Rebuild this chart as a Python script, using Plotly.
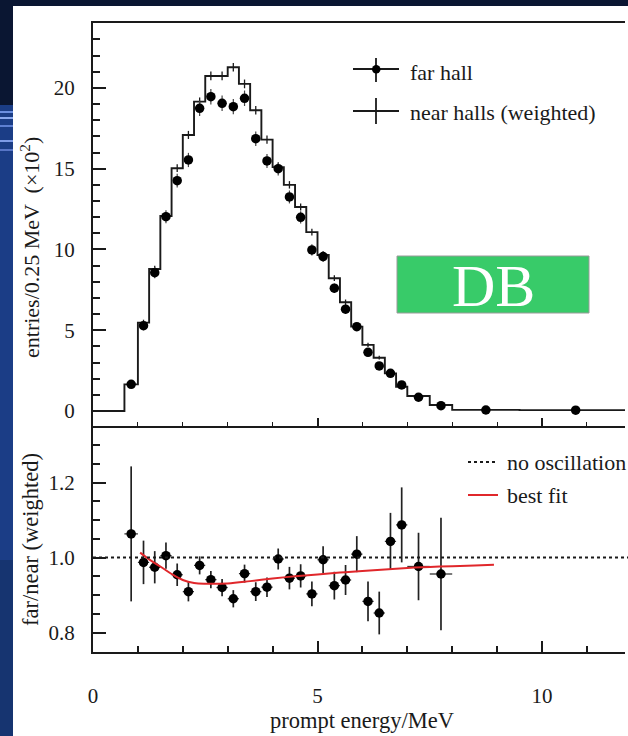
import numpy as np
import plotly.graph_objects as go

# ---------------- data ----------------
bin_edges = [0.7, 1.0, 1.25, 1.5, 1.75, 2.0, 2.25, 2.5, 2.75, 3.0, 3.25, 3.5,
             3.75, 4.0, 4.25, 4.5, 4.75, 5.0, 5.25, 5.5, 5.75, 6.0, 6.25, 6.5,
             6.75, 7.0, 7.5, 8.0, 9.5, 12.0]

near_counts = [1.65, 5.47, 8.79, 12.07, 15.03, 17.09, 19.15, 20.74, 20.74, 21.28,
               20.25, 18.62, 16.80, 15.10, 14.00, 12.63, 11.07, 9.66, 8.22, 6.73,
               5.22, 4.09, 3.30, 2.33, 1.50, 0.93, 0.37, 0.07, 0.05]
near_err = [0.12, 0.18, 0.2, 0.22, 0.24, 0.25, 0.26, 0.27, 0.27, 0.27,
            0.27, 0.26, 0.25, 0.24, 0.23, 0.22, 0.21, 0.2, 0.18, 0.17,
            0.15, 0.13, 0.12, 0.1, 0.08, 0.06, 0.04, 0.02, 0.02]

far_counts = [1.65, 5.28, 8.56, 12.03, 14.26, 15.54, 18.74, 19.46, 19.05, 18.84,
              19.36, 16.86, 15.48, 15.00, 13.25, 11.99, 9.97, 9.56, 7.60, 6.30,
              5.22, 3.63, 2.79, 2.33, 1.61, 0.85, 0.33, 0.06, 0.05]
far_err = [0.15, 0.28, 0.35, 0.4, 0.42, 0.44, 0.47, 0.48, 0.48, 0.47,
           0.48, 0.45, 0.43, 0.42, 0.4, 0.38, 0.35, 0.34, 0.3, 0.28,
           0.25, 0.2, 0.18, 0.16, 0.14, 0.1, 0.06, 0.03, 0.03]

ratio_values = [1.063, 0.987, 0.974, 1.005, 0.954, 0.909, 0.979, 0.941, 0.920, 0.890,
                0.957, 0.909, 0.921, 0.996, 0.945, 0.951, 0.903, 0.994, 0.925, 0.940,
                1.009, 0.883, 0.852, 1.043, 1.087, 0.976, 0.956]
ratio_err = [0.180, 0.058, 0.043, 0.035, 0.030, 0.026, 0.024, 0.023, 0.023, 0.023,
             0.024, 0.025, 0.026, 0.028, 0.030, 0.031, 0.033, 0.036, 0.037, 0.040,
             0.048, 0.053, 0.057, 0.076, 0.100, 0.090, 0.150]

fit_energy = [1.05, 1.25, 1.5, 1.75, 2.0, 2.25, 2.5, 3.0, 3.5, 4.0, 4.5, 5.0,
              5.5, 6.0, 6.5, 7.0, 7.5, 8.0, 8.5, 8.93]
fit_ratio = [1.013, 0.995, 0.976, 0.956, 0.940, 0.932, 0.930, 0.931, 0.937, 0.944,
             0.950, 0.955, 0.960, 0.964, 0.968, 0.972, 0.975, 0.977, 0.979, 0.981]

x_ticks = [0, 5, 10]
top_y_ticks = [0, 5, 10, 15, 20]
bot_y_ticks = [0.8, 1.0, 1.2]

# ---------------- derived ----------------
edges = np.array(bin_edges)
centers = (edges[:-1] + edges[1:]) / 2
halfw = (edges[1:] - edges[:-1]) / 2
n_ratio = len(ratio_values)

W, H = 628, 736
ML, MR, MT, MB = 93, 0, 23, 84
PW, PH = W - ML - MR, H - MT - MB
SPLIT = 426  # px where the panels meet


def px(xp):
    return (xp - ML) / PW


def py(yp):
    return (H - MB - yp) / PH


split_paper = py(SPLIT)

FONT = "Liberation Serif"
INK = "#1a1a1a"

fig = go.Figure()

# near halls step histogram
fig.add_trace(go.Scatter(
    x=[0.0] + list(edges), y=[0.0] + near_counts + [near_counts[-1]],
    mode="lines", line=dict(shape="hv", color=INK, width=1.9),
    xaxis="x", yaxis="y", showlegend=False, hoverinfo="skip"))
# near halls error crosses
fig.add_trace(go.Scatter(
    x=centers, y=near_counts, mode="markers",
    marker=dict(size=1, color=INK),
    error_y=dict(type="data", array=near_err, color=INK, thickness=1.3, width=0),
    xaxis="x", yaxis="y", showlegend=False))
# far hall points
fig.add_trace(go.Scatter(
    x=centers, y=far_counts, mode="markers",
    marker=dict(size=9.5, color="black"),
    error_y=dict(type="data", array=far_err, color="#444", thickness=1.2, width=0),
    xaxis="x", yaxis="y", showlegend=False))

# ratio panel
fig.add_trace(go.Scatter(
    x=centers[:n_ratio], y=ratio_values, mode="markers",
    marker=dict(size=9.5, color="black"),
    error_y=dict(type="data", array=ratio_err, color="#222", thickness=1.7, width=0),
    error_x=dict(type="data", array=halfw[:n_ratio], color="#333", thickness=1.3, width=0),
    xaxis="x2", yaxis="y2", showlegend=False))
fig.add_trace(go.Scatter(
    x=fit_energy, y=fit_ratio, mode="lines",
    line=dict(shape="spline", color="#e0272b", width=2),
    xaxis="x2", yaxis="y2", showlegend=False))

shapes = []
# background layers
shapes.append(dict(type="rect", xref="paper", yref="paper", x0=px(13), x1=px(W + 5),
                   y0=py(6), y1=py(H + 5), fillcolor="white", line=dict(width=0), layer="below"))
shapes.append(dict(type="rect", xref="paper", yref="paper", x0=px(-2), x1=px(13),
                   y0=py(105), y1=py(H + 5), fillcolor="#1b3d86", line=dict(width=0), layer="below"))
shapes.append(dict(type="rect", xref="paper", yref="paper", x0=px(-2), x1=px(13),
                   y0=py(560), y1=py(H + 5), fillcolor="#163470", line=dict(width=0), layer="below"))
for yy, cc in [(112, "#6c8fe0"), (118, "#8aa8ee"), (126, "#5e80d2"), (141, "#7d9be6"), (150, "#5775c6")]:
    shapes.append(dict(type="line", xref="paper", yref="paper", x0=px(-2), x1=px(13),
                       y0=py(yy), y1=py(yy), line=dict(color=cc, width=2), layer="below"))
# the reference is cropped at the right: hide the plot frame edge there
shapes.append(dict(type="rect", xref="paper", yref="paper", x0=px(625), x1=px(W + 5),
                   y0=py(660), y1=py(18), fillcolor="white", line=dict(width=0), layer="above"))

# no-oscillation reference line
shapes.append(dict(type="line", xref="x2 domain", yref="y2", x0=0, x1=1, y0=1.0, y1=1.0,
                   line=dict(color=INK, width=1.8, dash="3px,3px")))

# green DB box
shapes.append(dict(type="rect", xref="paper", yref="paper", x0=px(397), x1=px(589),
                   y0=py(313), y1=py(256), fillcolor="#38cb69",
                   line=dict(color="#9a9a9a", width=1)))

# legend symbols (top)
shapes.append(dict(type="line", xref="paper", yref="paper", x0=px(353), x1=px(399),
                   y0=py(69), y1=py(69), line=dict(color=INK, width=1.8)))
shapes.append(dict(type="line", xref="paper", yref="paper", x0=px(376), x1=px(376),
                   y0=py(58), y1=py(82), line=dict(color=INK, width=1.8)))
shapes.append(dict(type="circle", xref="paper", yref="paper", x0=px(372), x1=px(380.5),
                   y0=py(73.5), y1=py(65), fillcolor="black", line=dict(color="black", width=0)))
shapes.append(dict(type="line", xref="paper", yref="paper", x0=px(353), x1=px(399),
                   y0=py(111), y1=py(111), line=dict(color=INK, width=1.8)))
shapes.append(dict(type="line", xref="paper", yref="paper", x0=px(376), x1=px(376),
                   y0=py(98), y1=py(124), line=dict(color=INK, width=1.8)))
# legend symbols (bottom)
shapes.append(dict(type="line", xref="paper", yref="paper", x0=px(468), x1=px(498),
                   y0=py(462), y1=py(462), line=dict(color=INK, width=1.8, dash="3px,3px")))
shapes.append(dict(type="line", xref="paper", yref="paper", x0=px(468), x1=px(498),
                   y0=py(495), y1=py(495), line=dict(color="#e0272b", width=2)))

annotations = []


def note(text, xp, yp, size=22, xanchor="left", angle=0, color=INK):
    annotations.append(dict(text=text, xref="paper", yref="paper", x=px(xp), y=py(yp),
                            xanchor=xanchor, yanchor="middle", showarrow=False,
                            textangle=angle, font=dict(family=FONT, size=size, color=color)))


note("far hall", 408, 73)
note("near halls (weighted)", 408, 113)
note("no oscillation", 505, 462)
note("best fit", 505, 495)
note("DB", 493, 286, size=60, xanchor="center", color="white")
note("prompt energy/MeV", 362, 720, size=22.5, xanchor="center")
note("entries/0.25 MeV  (×10<sup>2</sup>)", 30, 248, size=22, xanchor="center", angle=-90)
note("far/near (weighted)", 30, 540, size=22.5, xanchor="center", angle=-90)

axis_common = dict(showgrid=False, zeroline=False, showline=True, linecolor=INK,
                   linewidth=2, ticks="inside", tickcolor=INK,
                   tickfont=dict(family=FONT, size=21, color=INK))

xr = [0, PW / 44.9]

fig.update_layout(
    width=W, height=H,
    margin=dict(l=ML, r=MR, t=MT, b=MB),
    paper_bgcolor="#0a1632", plot_bgcolor="white",
    showlegend=False,
    shapes=shapes, annotations=annotations,
    xaxis=dict(domain=[0, 1], anchor="y", range=xr, mirror=True,
               showticklabels=False, tickmode="linear", tick0=0, dtick=5,
               ticklen=8, tickwidth=1.6,
               minor=dict(tickmode="linear", tick0=0, dtick=1, ticks="inside",
                          ticklen=4, tickwidth=1.4, tickcolor=INK),
               **axis_common),
    yaxis=dict(domain=[split_paper, 1], anchor="x", range=[-0.93, 24.02],
               tickmode="array", tickvals=top_y_ticks, ticklen=13, tickwidth=1.8,
               ticklabelstandoff=12,
               minor=dict(tickmode="linear", tick0=0, dtick=1, ticks="inside",
                          ticklen=7, tickwidth=1.5, tickcolor=INK),
               **axis_common),
    xaxis2=dict(domain=[0, 1], anchor="y2", range=xr, matches="x",
                tickmode="array", tickvals=x_ticks, ticklen=11, tickwidth=1.8,
                ticklabelstandoff=24,
                minor=dict(tickmode="linear", tick0=0, dtick=1, ticks="inside",
                           ticklen=6, tickwidth=1.5, tickcolor=INK),
                **axis_common),
    yaxis2=dict(domain=[0, split_paper], anchor="x2", range=[0.748, 1.3507],
                tickmode="array", tickvals=bot_y_ticks,
                ticktext=[f"{v:.1f}" for v in bot_y_ticks],
                ticklen=13, tickwidth=1.8, ticklabelstandoff=12,
                minor=dict(tickmode="linear", tick0=0.75, dtick=0.05, ticks="inside",
                           ticklen=7, tickwidth=1.5, tickcolor=INK),
                **axis_common),
)

fig.write_html(
    "out.html",
    config={"displayModeBar": False},
    post_script="document.body.style.margin='0';document.body.style.padding='0';"
                "document.body.style.overflow='hidden';document.body.style.background='#0a1632';",
)
